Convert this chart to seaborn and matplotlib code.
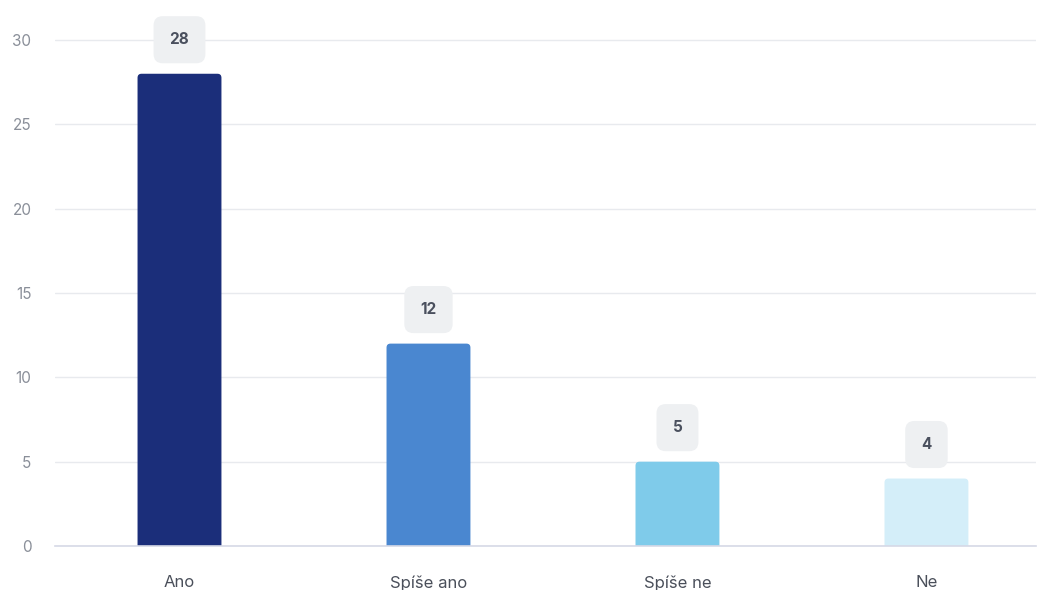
import matplotlib
matplotlib.use("Agg")
import matplotlib.pyplot as plt
from matplotlib.patches import FancyBboxPatch
import seaborn as sns
import pandas as pd

categories = ["Ano", "Spíše ano", "Spíše ne", "Ne"]
counts = [28, 12, 5, 4]
colors = ["#1b2e7a", "#4a87d0", "#7fcbea", "#d4eef9"]
yticks = [0, 5, 10, 15, 20, 25, 30]

df = pd.DataFrame({"odpoved": categories, "pocet": counts})

sns.set_theme(style="white")
plt.rcParams["font.family"] = ["Inter", "DejaVu Sans"]

W, H = 1038, 590
fig = plt.figure(figsize=(W / 100, H / 100), dpi=100)
# axes placed in pixels: left 55, right 1036, bottom (y=0) at 546, top at 10
ax = fig.add_axes([55 / W, (H - 546) / H, (1036 - 55) / W, (546 - 10) / H])

sns.barplot(data=df, x="odpoved", y="pocet", hue="odpoved", palette=colors,
            width=0.337, legend=False, ax=ax, saturation=1)

ax.set_xlim(-0.5, 3.44)
ax.set_ylim(0, 31.78)

# swap plain bars for ones with slightly rounded tops
px_x = (1036 - 55) / 3.94
px_y = (546 - 10) / 31.78
for p in list(ax.patches):
    x, w, h = p.get_x(), p.get_width(), p.get_height()
    fc = p.get_facecolor()
    p.remove()
    ax.add_patch(FancyBboxPatch((x, -1), w, h + 1,
                                boxstyle="round,pad=0,rounding_size=%f" % (4 / px_x),
                                mutation_aspect=px_x / px_y,
                                fc=fc, ec="none", zorder=2))

ax.set_yticks(yticks)
ax.grid(axis="y", color="#e8eaee", linewidth=1)
ax.set_axisbelow(True)
for s in ["top", "right", "left"]:
    ax.spines[s].set_visible(False)
ax.spines["bottom"].set_color("#d6d9e6")
ax.spines["bottom"].set_linewidth(1.2)
ax.spines["bottom"].set_zorder(3)
ax.set_xlabel("")
ax.set_ylabel("")
ax.tick_params(axis="y", length=0, pad=17, labelsize=11, labelcolor="#8a8f99")
ax.tick_params(axis="x", length=0, pad=21, labelsize=12, labelcolor="#4a4f5a")

for i, v in enumerate(counts):
    ax.annotate(str(v), (i, v), xytext=(0, 24.5), textcoords="offset points",
                ha="center", va="center", fontsize=11, fontweight="bold",
                color="#4a505e", zorder=4,
                bbox=dict(boxstyle="round,pad=1.05,rounding_size=0.6",
                          fc="#eef0f2", ec="none"))

fig.savefig("out.png", dpi=100)
